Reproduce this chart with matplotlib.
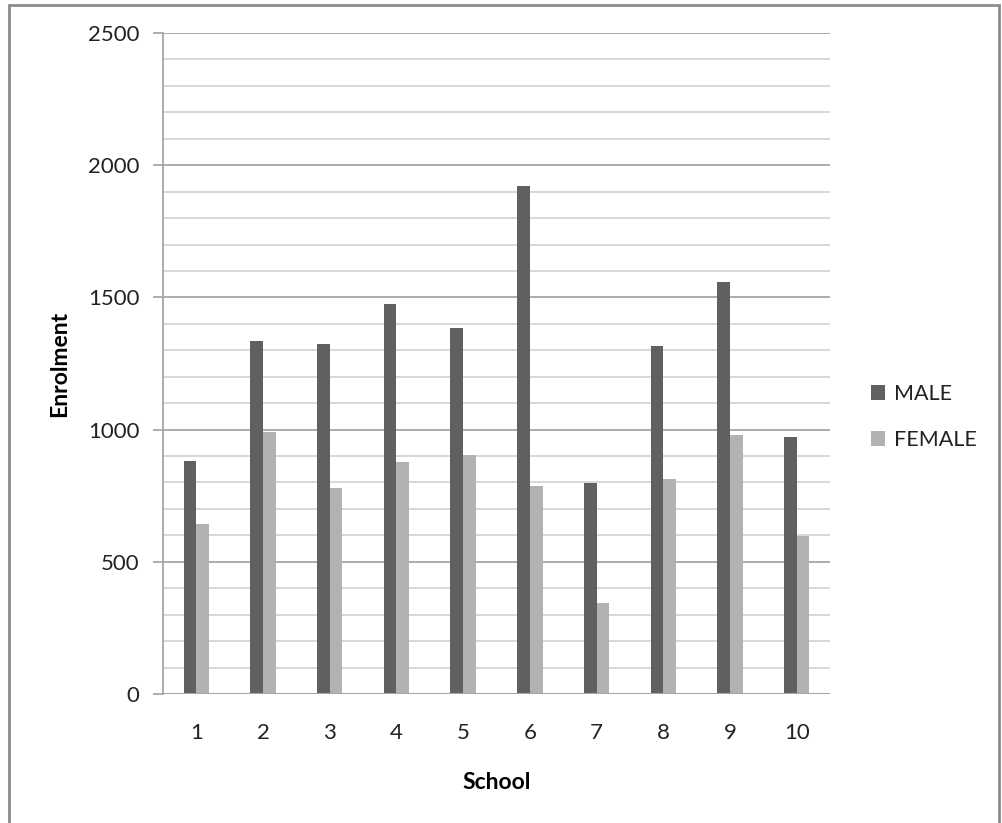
import matplotlib
matplotlib.use("Agg")
import matplotlib.pyplot as plt
import numpy as np
from matplotlib.patches import Rectangle, Patch

schools = ["1", "2", "3", "4", "5", "6", "7", "8", "9", "10"]
male = [880, 1335, 1325, 1476, 1386, 1922, 799, 1318, 1557, 972]
female = [644, 990, 780, 877, 903, 785, 345, 815, 981, 596]

plt.rcParams['font.family'] = ['Lato', 'DejaVu Sans']

W, H = 1002, 823
fig = plt.figure(figsize=(W / 100, H / 100), dpi=100)
ax = fig.add_axes([163 / W, 1 - 694 / H, (830 - 163) / W, (694 - 33) / H])

# outer chart border (cropped at the bottom as in reference)
fig.patches.append(Rectangle((9 / W, -0.01), (999 - 9) / W, 1 - 5 / H + 0.01, transform=fig.transFigure,
                             fill=False, edgecolor='#8c8c8c', linewidth=2.0, zorder=0))

x = np.arange(len(schools))
bw = 0.19
ax.bar(x - bw / 2, male, width=bw, color='#606060', label='MALE', zorder=3)
ax.bar(x + bw / 2, female, width=bw, color='#b2b2b2', label='FEMALE', zorder=3)

ax.set_xlim(-0.5, len(schools) - 0.5)
ax.set_ylim(0, 2500)
ax.set_yticks(np.arange(0, 2501, 500))
ax.set_yticks(np.arange(0, 2501, 100), minor=True)
ax.set_xticks(x)
ax.set_xticklabels(schools)

ax.grid(axis='y', which='major', color='#a6a6a6', linewidth=1.3, zorder=0)
ax.grid(axis='y', which='minor', color='#d4d4d4', linewidth=1.3, zorder=0)
ax.set_axisbelow(True)

for s in ['top', 'right', 'bottom']:
    ax.spines[s].set_visible(False)
ax.spines['left'].set_color('#a6a6a6')
ax.spines['left'].set_linewidth(1.3)
ax.axhline(0, color='#a6a6a6', linewidth=1.5, zorder=4)

ax.tick_params(axis='y', which='major', length=7, color='#a6a6a6', width=1.3,
               labelsize=16, pad=10, labelcolor='#222222')
ax.tick_params(axis='y', which='minor', length=0)
ax.tick_params(axis='x', length=0, labelsize=16, pad=21, labelcolor='#222222')

ax.set_ylabel('Enrolment', fontsize=16.5, fontweight='bold', labelpad=13)
ax.set_xlabel('School', fontsize=16.5, fontweight='bold', labelpad=21)

handles = [Patch(facecolor='#606060', label='MALE'), Patch(facecolor='#b2b2b2', label='FEMALE')]
fig.legend(handles=handles, loc='center left', bbox_to_anchor=(852 / W, 1 - 417 / H),
           frameon=False, fontsize=15.5, handlelength=0.65, handleheight=0.65,
           handletextpad=0.4, labelspacing=1.2, labelcolor='#222222')

fig.savefig('out.png', dpi=100, facecolor='white')
